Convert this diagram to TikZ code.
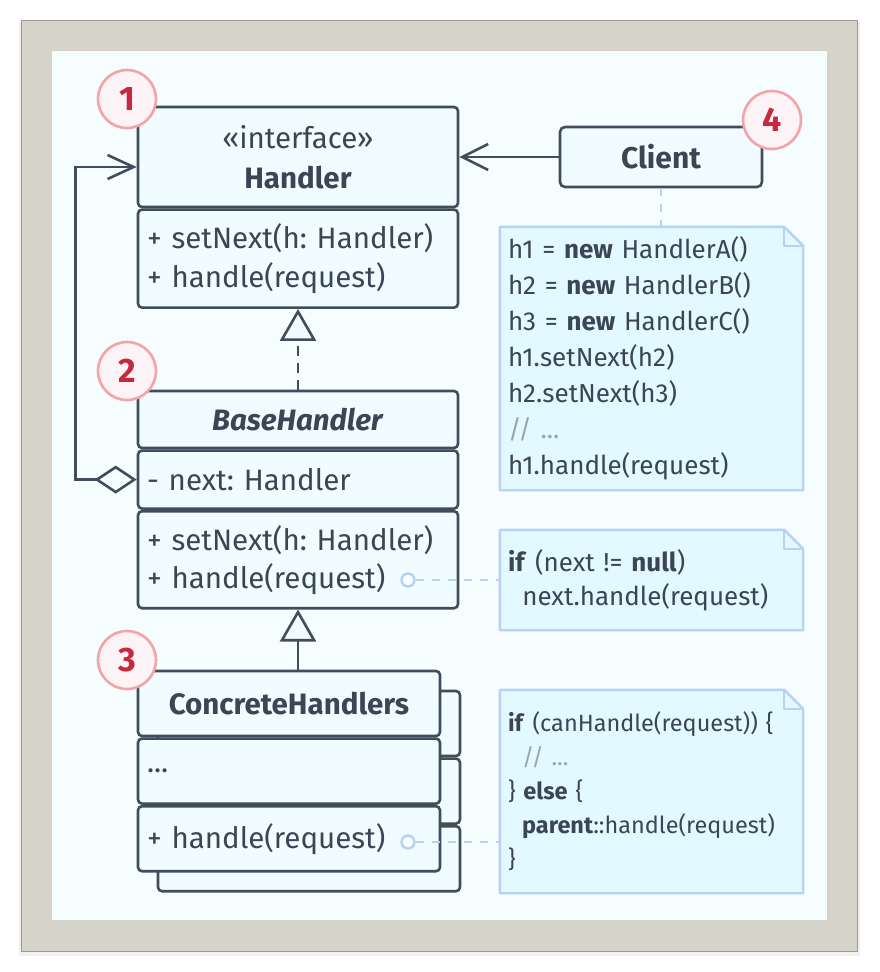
\documentclass[tikz,border=0pt]{standalone}
\usepackage{fontspec}
\setmainfont{Fira Sans}
\usetikzlibrary{arrows.meta, positioning}
\frenchspacing

\definecolor{framegray}{HTML}{D6D3CB}
\definecolor{frameedge}{HTML}{9C9A92}
\definecolor{canvas}{HTML}{F6FDFF}
\definecolor{edge}{HTML}{414C5C}
\definecolor{ink}{HTML}{3B4555}
\definecolor{boxfill}{HTML}{F0FCFF}
\definecolor{notefill}{HTML}{E2FAFF}
\definecolor{noteedge}{HTML}{B7D2F2}
\definecolor{comment}{HTML}{9AA3AE}
\definecolor{badgeline}{HTML}{F4A3A6}
\definecolor{badgefill}{HTML}{FBF3F6}
\definecolor{badgeink}{HTML}{C8283F}

\tikzstyle{classhead} =[rectangle, rounded corners=4pt, draw=edge, fill=boxfill, line width=2.6pt, text=ink, inner xsep=9pt, align=center, font=\fontsize{29.5}{40}\selectfont]
\tikzstyle{classpart} =[classhead, align=left]
\tikzstyle{client} =[rectangle, rounded corners=5pt, draw=edge, fill=boxfill, line width=2.6pt, text=ink, minimum width=202pt, minimum height=60pt, font=\fontsize{30}{40}\selectfont\bfseries]
\tikzstyle{note} =[rectangle, fill=notefill, text=ink, text width=287pt, inner xsep=8pt, align=left, font=\fontsize{26}{36}\selectfont]
\tikzstyle{badge} =[circle, draw=badgeline, fill=badgefill, line width=2.6pt, minimum size=58pt, inner sep=0pt, text=badgeink, font=\fontsize{34}{34}\selectfont\bfseries]
\tikzstyle{port} =[circle, draw=noteedge, fill=canvas, line width=2.4pt, minimum size=13pt, inner sep=0pt]
\tikzstyle{assoc} =[draw=edge, line width=2.6pt, -{Straight Barb[length=26pt, width=26pt, line width=2.6pt]}]
\tikzstyle{realize} =[draw=edge, line width=2.6pt, dash pattern=on 10pt off 7pt, -{Triangle[open, length=32pt, width=36pt, line width=2.6pt, fill=boxfill]}]
\tikzstyle{inherit} =[draw=edge, line width=2.6pt, -{Triangle[open, length=32pt, width=36pt, line width=2.6pt, fill=boxfill]}]
\tikzstyle{aggreg} =[draw=edge, line width=2.6pt, {Diamond[open, length=42pt, width=28pt, line width=2.6pt, fill=canvas]}-{Straight Barb[length=26pt, width=24pt, line width=2.6pt]}]
\tikzstyle{noteline} =[draw=noteedge, line width=2.4pt, dash pattern=on 8pt off 8pt]

% folded corner of a note
\newcommand{\dogear}[1]{
  \fill[canvas] ([xshift=-19pt]#1.north east) -- (#1.north east) -- ([yshift=-19pt]#1.north east) -- cycle;
  \draw[noteedge, line width=2.4pt, line join=round] (#1.north west) -- ([xshift=-19pt]#1.north east) -- ([yshift=-19pt]#1.north east) -- (#1.south east) -- (#1.south west) -- cycle;
  \draw[noteedge, line width=2.4pt, line join=round] ([xshift=-19pt]#1.north east) |- ([yshift=-19pt]#1.north east);
}

\begin{document}
\begin{tikzpicture}[x=1pt, y=-1pt]
% frame
\fill[white] (0,0) rectangle (879,972);
\fill[black!6] (19,22) rectangle (860,956);
\draw[frameedge, fill=framegray, line width=1pt] (21,20) rectangle (857,951);
\fill[canvas] (52,51) rectangle (827,920);

% Handler
\node (hndhead) [classhead, minimum width=320pt, minimum height=100pt, text width=302pt] at (298,157) {«interface»\\\textbf{Handler}};
\node (hndops) [classpart, below=0pt of hndhead, minimum width=320pt, minimum height=98pt, text width=302pt, font=\fontsize{29.5}{39}\selectfont] {+ setNext(h: Handler)\\+ handle(request)};

% BaseHandler
\node (basehead) [classhead, minimum width=320pt, minimum height=57pt, text width=302pt] at (298,419.5) {\textbf{\itshape BaseHandler}};
\node (basefield) [classpart, below=0pt of basehead, minimum width=320pt, minimum height=58pt, text width=302pt] {- next: Handler};
\node (baseops) [classpart, below=0pt of basefield, minimum width=320pt, minimum height=97pt, text width=302pt, font=\fontsize{29.5}{38}\selectfont] {+ setNext(h: Handler)\\+ handle(request)};

% ConcreteHandlers, back copy first
\node (back1) [classhead, minimum width=302pt, minimum height=65pt, text width=284pt] at (309,723.5) {};
\node (back2) [classhead, below=0pt of back1, minimum width=302pt, minimum height=65pt, text width=284pt] {};
\node (back3) [classhead, below=0pt of back2, minimum width=302pt, minimum height=65pt, text width=284pt] {};
\node (conhead) [classhead, minimum width=302pt, minimum height=65pt, text width=284pt] at (289,703.5) {\textbf{ConcreteHandlers}};
\node (confield) [classpart, below=0pt of conhead, minimum width=302pt, minimum height=65pt, text width=284pt] {...};
\node (conops) [classpart, below=0pt of confield, minimum width=302pt, minimum height=65pt, text width=284pt] {+ handle(request)};

% Client and notes
\node (client) [client] at (661,157) {Client};
\node (note1) [note, minimum height=263pt] at (651.5,358.5) {h1 = \textbf{new} HandlerA()\\h2 = \textbf{new} HandlerB()\\h3 = \textbf{new} HandlerC()\\h1.setNext(h2)\\h2.setNext(h3)\\\textcolor{comment}{// ...}\\h1.handle(request)};
\dogear{note1}
\node (note2) [note, minimum height=100pt, font=\fontsize{26}{34}\selectfont] at (651.5,580) {\textbf{if} (next != \textbf{null})\\\hspace*{0.55em}next.handle(request)};
\dogear{note2}
\node (note3) [note, minimum height=203pt, font=\fontsize{23.5}{34}\selectfont] at (651.5,791.5) {\textbf{if} (canHandle(request)) \{\\\hspace*{0.6em}\textcolor{comment}{// ...}\\\} \textbf{else} \{\\\hspace*{0.6em}\textbf{parent}::handle(request)\\\}};
\dogear{note3}

% links
\draw [assoc] (client) -- (hndhead);
\draw [noteline] (client.south) -- (client.south |- note1.north);
\draw [realize] (basehead) -- (hndops);
\draw [inherit] (conhead.north -| baseops.south) -- (baseops.south);
\draw [aggreg] (basefield.west) -- ++(-61,0) |- ([yshift=-10pt]hndhead.west);
\node (port1) [port] at (408,580) {};
\node (port2) [port] at (408,842) {};
\draw [noteline] (port1) -- (port1 -| note2.west);
\draw [noteline] (port2) -- (port2 -| note3.west);

% numbered badges
\node (badge1) [badge] at (127,99) {1};
\node (badge2) [badge] at (127,371) {2};
\node (badge3) [badge] at (127,660) {3};
\node (badge4) [badge] at (772,120) {4};
\end{tikzpicture}
\end{document}
